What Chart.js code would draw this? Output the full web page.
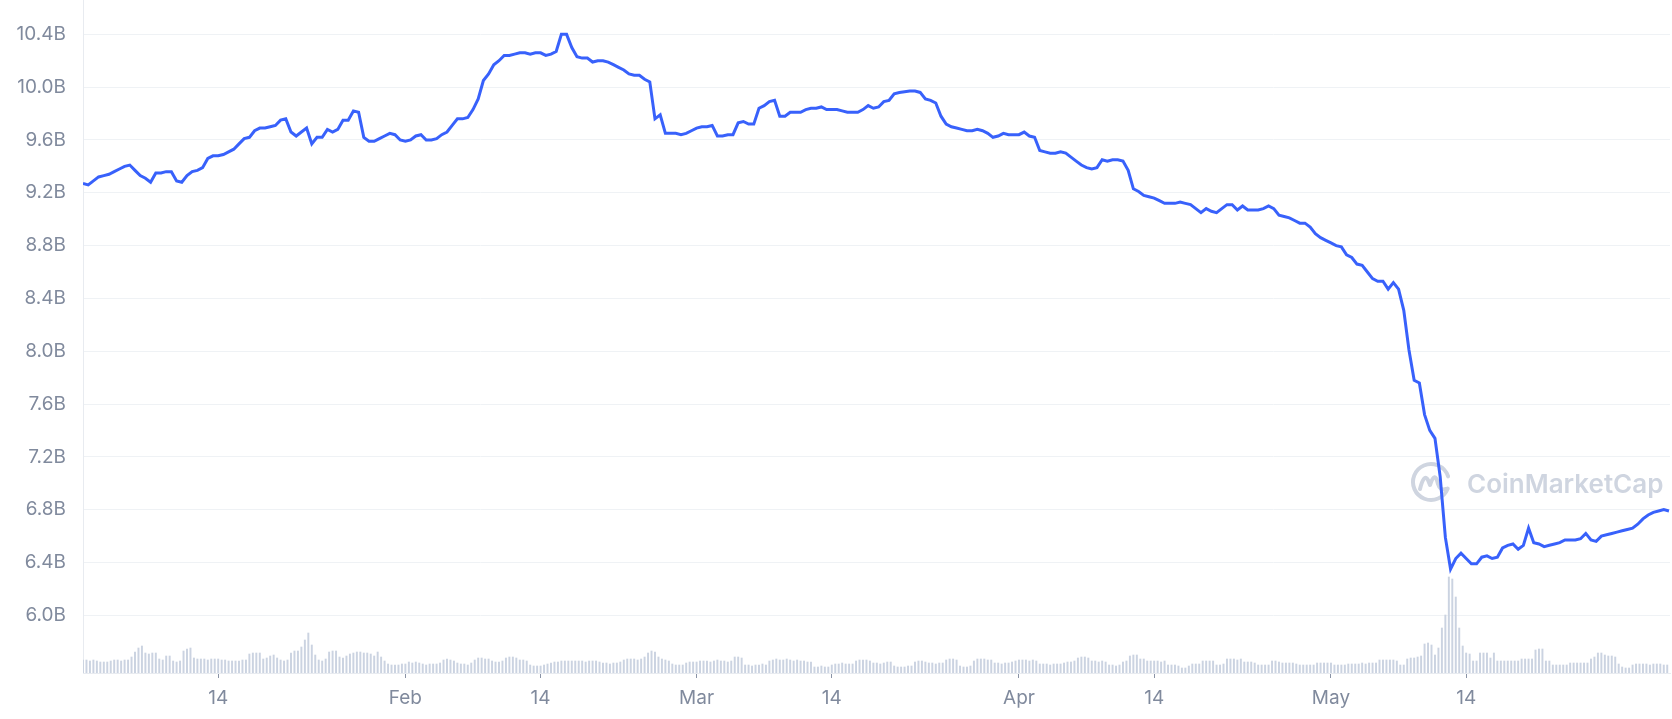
<!DOCTYPE html>
<html>
<head>
<meta charset="utf-8">
<title>Market cap</title>
<script src="https://cdn.jsdelivr.net/npm/chart.js@4.4.1/dist/chart.umd.min.js"></script>
<style>
  html, body { margin: 0; padding: 0; background: #fff; }
  #wrap { width: 1672px; height: 719px; position: relative; }
</style>
</head>
<body>
<div id="wrap"><canvas id="capChart"></canvas></div>
<script>
// Market cap in billions USD, one reading every 12 hours from 1 Jan 2022
const marketCapB = [
  9.27, 9.26, 9.29, 9.32, 9.33, 9.34, 9.36, 9.38, 9.40, 9.41,
  9.37, 9.33, 9.31, 9.28, 9.35, 9.35, 9.36, 9.36, 9.29, 9.28,
  9.33, 9.36, 9.37, 9.39, 9.46, 9.48, 9.48, 9.49, 9.51, 9.53,
  9.57, 9.61, 9.62, 9.67, 9.69, 9.69, 9.70, 9.71, 9.75, 9.76,
  9.66, 9.63, 9.66, 9.69, 9.57, 9.62, 9.62, 9.68, 9.66, 9.68,
  9.75, 9.75, 9.82, 9.81, 9.62, 9.59, 9.59, 9.61, 9.63, 9.65,
  9.64, 9.60, 9.59, 9.60, 9.63, 9.64, 9.60, 9.60, 9.61, 9.64,
  9.66, 9.71, 9.76, 9.76, 9.77, 9.83, 9.91, 10.05, 10.10, 10.17,
  10.20, 10.24, 10.24, 10.25, 10.26, 10.26, 10.25, 10.26, 10.26, 10.24,
  10.25, 10.27, 10.40, 10.40, 10.30, 10.23, 10.22, 10.22, 10.19, 10.20,
  10.20, 10.19, 10.17, 10.15, 10.13, 10.10, 10.09, 10.09, 10.06, 10.04,
  9.76, 9.79, 9.65, 9.65, 9.65, 9.64, 9.65, 9.67, 9.69, 9.70,
  9.70, 9.71, 9.63, 9.63, 9.64, 9.64, 9.73, 9.74, 9.72, 9.72,
  9.84, 9.86, 9.89, 9.90, 9.78, 9.78, 9.81, 9.81, 9.81, 9.83,
  9.84, 9.84, 9.85, 9.83, 9.83, 9.83, 9.82, 9.81, 9.81, 9.81,
  9.83, 9.86, 9.84, 9.85, 9.89, 9.90, 9.95, 9.96, 9.965, 9.97,
  9.97, 9.96, 9.91, 9.90, 9.88, 9.78, 9.72, 9.70, 9.69, 9.68,
  9.67, 9.67, 9.68, 9.67, 9.65, 9.62, 9.63, 9.65, 9.64, 9.64,
  9.64, 9.66, 9.63, 9.62, 9.52, 9.51, 9.50, 9.50, 9.51, 9.50,
  9.47, 9.44, 9.41, 9.39, 9.38, 9.39, 9.45, 9.44, 9.45, 9.45,
  9.44, 9.37, 9.23, 9.21, 9.18, 9.17, 9.16, 9.14, 9.12, 9.12,
  9.12, 9.13, 9.12, 9.11, 9.08, 9.05, 9.08, 9.06, 9.05, 9.08,
  9.11, 9.11, 9.07, 9.10, 9.07, 9.07, 9.07, 9.08, 9.10, 9.08,
  9.03, 9.02, 9.01, 8.99, 8.97, 8.97, 8.94, 8.89, 8.86, 8.84,
  8.82, 8.80, 8.79, 8.73, 8.71, 8.66, 8.65, 8.60, 8.55, 8.53,
  8.53, 8.47, 8.52, 8.47, 8.31, 8.01, 7.78, 7.76, 7.52, 7.40,
  7.34, 7.05, 6.59, 6.35, 6.43, 6.47, 6.43, 6.39, 6.39, 6.44,
  6.45, 6.43, 6.44, 6.51, 6.53, 6.54, 6.50, 6.53, 6.66, 6.55,
  6.54, 6.52, 6.53, 6.54, 6.55, 6.57, 6.57, 6.57, 6.58, 6.62,
  6.57, 6.56, 6.60, 6.61, 6.62, 6.63, 6.64, 6.65, 6.66, 6.69,
  6.73, 6.76, 6.78, 6.79, 6.80, 6.79
];

// Trading volume in tens of millions USD, one bar every 8 hours from 1 Jan 2022
const volume = [
  13, 13, 12, 13, 12, 11, 11, 11, 12, 13,
  13, 12, 13, 13, 16, 21, 25, 27, 20, 19,
  20, 20, 14, 13, 17, 17, 12, 11, 12, 22,
  24, 25, 15, 14, 14, 14, 13, 14, 14, 14,
  13, 13, 12, 12, 12, 12, 13, 13, 19, 20,
  20, 20, 14, 15, 17, 18, 15, 13, 12, 13,
  20, 22, 22, 26, 33, 40, 28, 18, 13, 12,
  14, 21, 22, 22, 16, 15, 17, 19, 20, 21,
  21, 20, 20, 19, 17, 21, 16, 12, 9, 8,
  8, 8, 9, 9, 11, 10, 11, 10, 9, 8,
  9, 9, 9, 10, 13, 14, 13, 12, 10, 9,
  9, 8, 10, 13, 15, 15, 14, 14, 12, 11,
  11, 12, 15, 16, 16, 15, 13, 13, 12, 8,
  7, 7, 7, 8, 9, 10, 11, 11, 12, 12,
  12, 12, 12, 12, 12, 11, 12, 12, 12, 11,
  10, 10, 9, 10, 10, 11, 13, 14, 14, 14,
  13, 14, 16, 20, 22, 21, 16, 14, 13, 12,
  9, 8, 8, 8, 10, 11, 11, 11, 12, 12,
  12, 11, 12, 13, 12, 12, 11, 12, 16, 16,
  15, 8, 8, 7, 8, 8, 9, 8, 12, 13,
  14, 13, 13, 14, 13, 12, 13, 12, 12, 11,
  11, 6, 6, 7, 6, 6, 8, 9, 9, 10,
  9, 9, 9, 12, 13, 13, 13, 12, 10, 10,
  9, 10, 11, 11, 7, 6, 6, 6, 7, 7,
  11, 12, 12, 11, 10, 10, 9, 10, 10, 13,
  14, 14, 13, 7, 6, 6, 7, 12, 14, 14,
  14, 13, 13, 10, 10, 9, 10, 10, 11, 12,
  13, 13, 13, 12, 13, 12, 9, 9, 9, 8,
  9, 9, 9, 10, 11, 11, 12, 15, 16, 16,
  15, 12, 12, 11, 12, 11, 8, 8, 7, 8,
  11, 12, 17, 18, 18, 14, 14, 12, 12, 12,
  12, 11, 12, 8, 8, 8, 7, 5, 5, 7,
  9, 9, 9, 12, 12, 12, 12, 8, 8, 9,
  14, 14, 14, 13, 14, 11, 11, 11, 10, 8,
  8, 8, 8, 12, 12, 11, 10, 10, 10, 10,
  9, 8, 8, 8, 8, 8, 10, 10, 10, 10,
  10, 8, 8, 8, 8, 9, 9, 9, 9, 10,
  9, 10, 10, 10, 13, 13, 13, 13, 13, 12,
  8, 8, 14, 15, 15, 16, 17, 29, 30, 28,
  18, 25, 45, 58, 96, 94, 76, 45, 27, 20,
  19, 12, 12, 20, 20, 20, 15, 20, 12, 12,
  12, 12, 12, 12, 12, 14, 14, 14, 14, 23,
  24, 24, 12, 12, 8, 8, 8, 8, 8, 10,
  10, 10, 10, 10, 10, 14, 16, 20, 20, 18,
  17, 17, 16, 9, 6, 5, 5, 8, 9, 9,
  9, 9, 8, 9, 9, 9, 8, 8
];

// X axis: days since 1 Jan 2022 and their labels
const tickDays = [13, 31, 44, 59, 72, 90, 103, 120, 133];
const tickLabels = ['14', 'Feb', '14', 'Mar', '14', 'Apr', '14', 'May', '14'];
// Y axis ticks, billions
const capTicks = [6.0, 6.4, 6.8, 7.2, 7.6, 8.0, 8.4, 8.8, 9.2, 9.6, 10.0, 10.4];

const labelColor = '#808a9d';
const labelFont = { family: 'Inter', size: 19 };

// CoinMarketCap watermark behind the data
const watermark = {
  id: 'watermark',
  beforeDatasetsDraw(chart) {
    const ctx = chart.ctx;
    const cx = 1431, cy = 482, r = 18;
    ctx.save();
    ctx.strokeStyle = '#cfd5e0';
    ctx.fillStyle = '#cfd5e0';
    ctx.lineWidth = 4;
    ctx.lineCap = 'round';
    ctx.lineJoin = 'round';
    ctx.beginPath();
    ctx.arc(cx, cy, r, 0.12 * Math.PI, 1.9 * Math.PI);
    ctx.stroke();
    ctx.beginPath();
    ctx.moveTo(cx - 11, cy + 7);
    ctx.quadraticCurveTo(cx - 7, cy - 9, cx - 3, cy - 2);
    ctx.lineTo(cx - 1, cy + 3);
    ctx.quadraticCurveTo(cx + 4, cy - 12, cx + 7, cy + 2);
    ctx.quadraticCurveTo(cx + 9, cy + 9, cx + 15, cy + 7);
    ctx.stroke();
    ctx.font = '600 26px Inter';
    ctx.textBaseline = 'alphabetic';
    ctx.fillText('CoinMarketCap', 1467, 493);
    ctx.restore();
  }
};

const ctxCap = document.getElementById('capChart').getContext('2d');
new Chart(ctxCap, {
  type: 'line',
  data: {
    datasets: [
      {
        type: 'line',
        label: 'Market Cap',
        data: marketCapB.map((v, k) => ({ x: k / 2, y: v })),
        yAxisID: 'y',
        borderColor: '#3861fb',
        borderWidth: 3,
        pointRadius: 0,
        tension: 0,
        order: 0
      },
      {
        type: 'bar',
        label: 'Volume',
        data: volume.map((v, i) => ({ x: i / 3, y: v })),
        yAxisID: 'yVol',
        backgroundColor: '#cbd3e1',
        barThickness: 1.3,
        order: 1
      }
    ]
  },
  options: {
    responsive: true,
    maintainAspectRatio: false,
    animation: false,
    layout: { padding: { left: 0, right: 2, top: 0, bottom: 0 } },
    plugins: {
      legend: { display: false },
      tooltip: { enabled: false }
    },
    scales: {
      x: {
        type: 'linear',
        min: 0,
        max: 152.6,
        offset: false,
        afterBuildTicks: (s) => { s.ticks = tickDays.map(v => ({ value: v })); },
        afterFit: (s) => { s.height = 46; s.paddingLeft = 0; s.paddingRight = 0; },
        grid: { offset: false, drawOnChartArea: false, drawTicks: true, tickLength: 5, tickColor: '#8a93a6' },
        border: { color: '#e8ebf0' },
        ticks: {
          callback: (v, i) => tickLabels[i],
          padding: 9,
          color: labelColor,
          font: labelFont,
          maxRotation: 0,
          autoSkip: false
        }
      },
      y: {
        position: 'left',
        min: 5.563,
        max: 10.66,
        afterBuildTicks: (s) => { s.ticks = capTicks.map(v => ({ value: v })); },
        afterFit: (s) => { s.width = 83; s.paddingTop = 0; s.paddingBottom = 0; },
        grid: { color: '#eff2f5', drawTicks: false },
        border: { color: '#e8ebf0' },
        ticks: {
          callback: (v) => v.toFixed(1) + 'B',
          padding: 17,
          color: labelColor,
          font: labelFont
        }
      },
      yVol: {
        display: false,
        min: 0,
        max: 673
      }
    }
  },
  plugins: [watermark]
});
</script>
</body>
</html>
